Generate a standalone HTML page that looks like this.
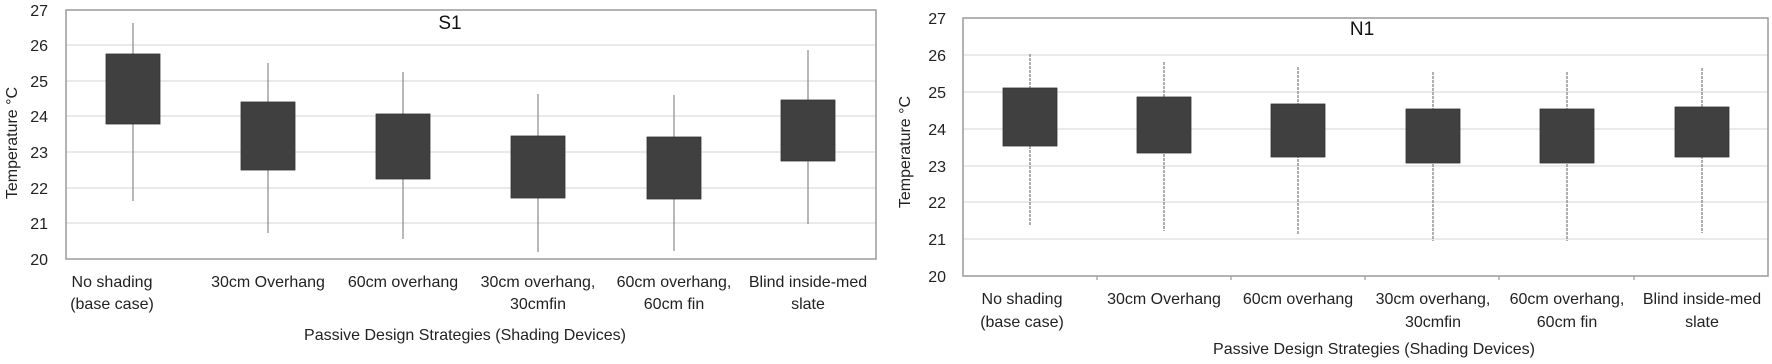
<!DOCTYPE html>
<html><head><meta charset="utf-8"><style>
html,body{margin:0;padding:0;background:#fff;}
svg{display:block;font-family:"Liberation Sans",sans-serif;}
</style></head><body>
<svg width="1772" height="364" viewBox="0 0 1772 364" xmlns="http://www.w3.org/2000/svg">
<!-- LEFT CHART -->
<g stroke="#e4e4e4" stroke-width="1.5">
<line x1="66" x2="876" y1="45" y2="45"/><line x1="66" x2="876" y1="81" y2="81"/>
<line x1="66" x2="876" y1="116" y2="116"/><line x1="66" x2="876" y1="152" y2="152"/>
<line x1="66" x2="876" y1="188" y2="188"/><line x1="66" x2="876" y1="223" y2="223"/>
</g>
<rect x="66" y="10" width="810" height="249" fill="none" stroke="#9a9a9a" stroke-width="1.5"/>
<g stroke="#8a8a8a" stroke-width="1.2">
<line x1="133" x2="133" y1="23" y2="201"/><line x1="268" x2="268" y1="63" y2="233"/>
<line x1="403" x2="403" y1="72" y2="239"/><line x1="538" x2="538" y1="94" y2="252"/>
<line x1="674" x2="674" y1="95" y2="251"/><line x1="808" x2="808" y1="50" y2="224"/>
</g>
<g fill="#404040" stroke="#333" stroke-width="0.8">
<rect x="106" y="54" width="54" height="70"/><rect x="241" y="102" width="54" height="68"/>
<rect x="376" y="114" width="54" height="65"/><rect x="511" y="136" width="54" height="62"/>
<rect x="647" y="137" width="54" height="62"/><rect x="781" y="100" width="54" height="61"/>
</g>
<g font-size="16" fill="#222" text-anchor="end">
<text x="48" y="16">27</text><text x="48" y="51">26</text><text x="48" y="87">25</text>
<text x="48" y="122">24</text><text x="48" y="158">23</text><text x="48" y="194">22</text>
<text x="48" y="229">21</text><text x="48" y="265">20</text>
</g>
<text transform="translate(17,143) rotate(-90)" font-size="16" fill="#222" text-anchor="middle">Temperature °C</text>
<text x="450" y="29" font-size="19" fill="#111" text-anchor="middle">S1</text>
<g font-size="16" fill="#222" text-anchor="middle">
<text x="112" y="287">No shading</text><text x="112" y="309">(base  case)</text>
<text x="268" y="287">30cm Overhang</text>
<text x="403" y="287">60cm overhang</text>
<text x="538" y="287">30cm overhang,</text><text x="538" y="309">30cmfin</text>
<text x="674" y="287">60cm overhang,</text><text x="674" y="309">60cm fin</text>
<text x="808" y="287">Blind inside-med</text><text x="808" y="309">slate</text>
<text x="465" y="340">Passive Design Strategies (Shading Devices)</text>
</g>
<!-- RIGHT CHART -->
<g stroke="#e4e4e4" stroke-width="1.5">
<line x1="963" x2="1768" y1="55" y2="55"/><line x1="963" x2="1768" y1="92" y2="92"/>
<line x1="963" x2="1768" y1="129" y2="129"/><line x1="963" x2="1768" y1="166" y2="166"/>
<line x1="963" x2="1768" y1="202" y2="202"/><line x1="963" x2="1768" y1="239" y2="239"/>
</g>
<rect x="963" y="18" width="805" height="258" fill="none" stroke="#9a9a9a" stroke-width="1.5"/>
<g stroke="#9a9a9a" stroke-width="1.2">
<line x1="1097" x2="1097" y1="276" y2="280"/><line x1="1231" x2="1231" y1="276" y2="280"/>
<line x1="1365" x2="1365" y1="276" y2="280"/><line x1="1499" x2="1499" y1="276" y2="280"/>
<line x1="1634" x2="1634" y1="276" y2="280"/>
</g>
<g stroke="#7a7a7a" stroke-width="1.2" stroke-dasharray="3 1">
<line x1="1030" x2="1030" y1="54" y2="226"/><line x1="1164" x2="1164" y1="62" y2="231"/>
<line x1="1298" x2="1298" y1="67" y2="235"/><line x1="1433" x2="1433" y1="72" y2="241"/>
<line x1="1567" x2="1567" y1="72" y2="241"/><line x1="1702" x2="1702" y1="68" y2="233"/>
</g>
<g fill="#404040" stroke="#333" stroke-width="0.8">
<rect x="1003" y="88" width="54" height="58"/><rect x="1137" y="97" width="54" height="56"/>
<rect x="1271" y="104" width="54" height="53"/><rect x="1406" y="109" width="54" height="54"/>
<rect x="1540" y="109" width="54" height="54"/><rect x="1675" y="107" width="54" height="50"/>
</g>
<g font-size="16" fill="#222" text-anchor="end">
<text x="946" y="24">27</text><text x="946" y="61">26</text><text x="946" y="98">25</text>
<text x="946" y="135">24</text><text x="946" y="172">23</text><text x="946" y="208">22</text>
<text x="946" y="245">21</text><text x="946" y="282">20</text>
</g>
<text transform="translate(910,152) rotate(-90)" font-size="16" fill="#222" text-anchor="middle">Temperature °C</text>
<text x="1362" y="35" font-size="19" fill="#111" text-anchor="middle">N1</text>
<g font-size="16" fill="#222" text-anchor="middle">
<text x="1022" y="304">No shading</text><text x="1022" y="327">(base  case)</text>
<text x="1164" y="304">30cm Overhang</text>
<text x="1298" y="304">60cm overhang</text>
<text x="1433" y="304">30cm overhang,</text><text x="1433" y="327">30cmfin</text>
<text x="1567" y="304">60cm overhang,</text><text x="1567" y="327">60cm fin</text>
<text x="1702" y="304">Blind inside-med</text><text x="1702" y="327">slate</text>
<text x="1374" y="354">Passive Design Strategies (Shading Devices)</text>
</g>
</svg>
</body></html>
